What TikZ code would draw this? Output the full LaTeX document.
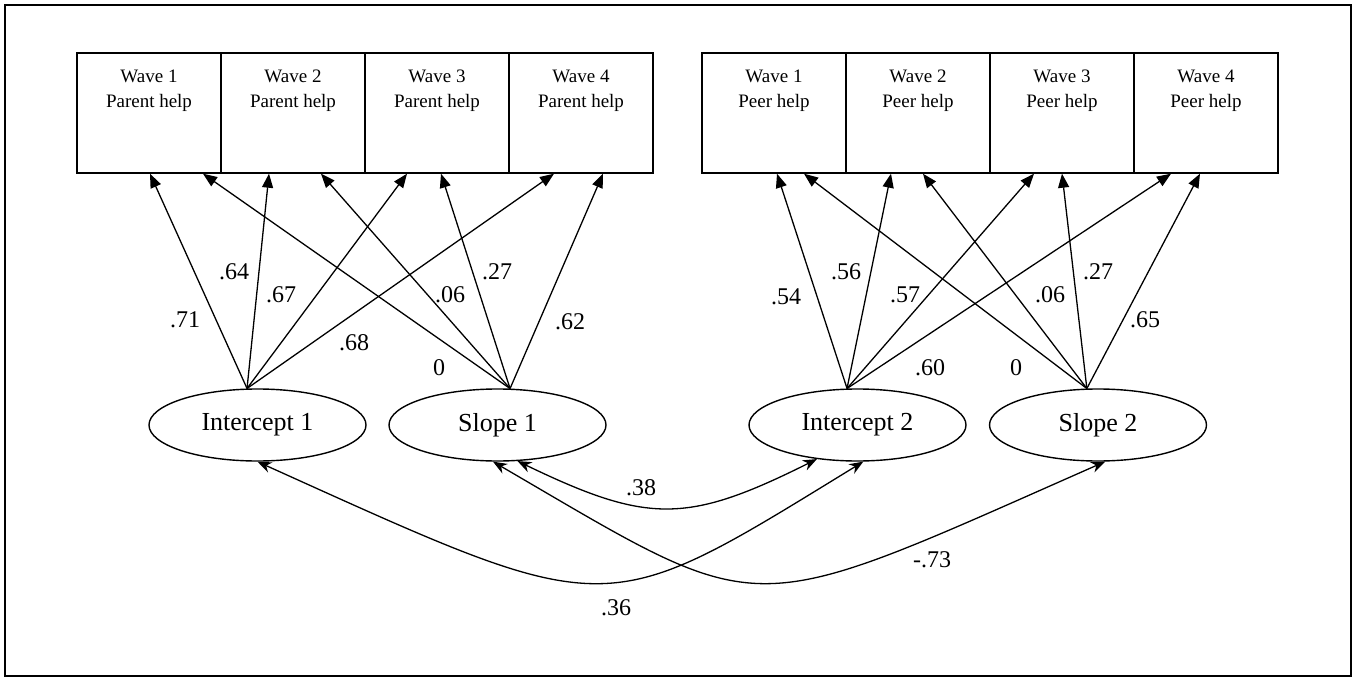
\documentclass[tikz,border=0pt]{standalone}
\usepackage{fontspec}
\setmainfont{Liberation Serif}
\usetikzlibrary{arrows.meta,shapes.geometric}

\begin{document}
\begin{tikzpicture}[x=1pt,y=-1pt,
  frame/.style={draw, line width=1.6pt},
  obsbox/.style={draw, line width=1.4pt, minimum width=144pt, minimum height=120pt, inner sep=0pt},
  boxtext/.style={font=\fontsize{19}{25}\selectfont, align=center, anchor=north, inner sep=0pt},
  latent/.style={draw, ellipse, line width=1.4pt, minimum width=217pt, minimum height=72pt, inner sep=0pt, font=\fontsize{26}{30}\selectfont},
  load/.style={-{Triangle[length=14pt,width=11pt]}, line width=1.3pt},
  cov/.style={{Stealth[length=14pt,width=11pt]}-{Stealth[length=14pt,width=11pt]}, line width=1.3pt},
  coef/.style={font=\fontsize{24}{28}\selectfont, inner sep=0pt}
]
\useasboundingbox (0,0) rectangle (1358,677);
\draw[frame] (5,5) rectangle (1351,676);

% observed measures: parent help
\node[obsbox] (p1) at (149,113) {};
\node[obsbox] (p2) at (293,113) {};
\node[obsbox] (p3) at (437,113) {};
\node[obsbox] (p4) at (581,113) {};
\node[boxtext] (tp1) at (149,69.5) {Wave 1\\Parent help};
\node[boxtext] (tp2) at (293,69.5) {Wave 2\\Parent help};
\node[boxtext] (tp3) at (437,69.5) {Wave 3\\Parent help};
\node[boxtext] (tp4) at (581,69.5) {Wave 4\\Parent help};

% observed measures: peer help
\node[obsbox] (q1) at (774,113) {};
\node[obsbox] (q2) at (918,113) {};
\node[obsbox] (q3) at (1062,113) {};
\node[obsbox] (q4) at (1206,113) {};
\node[boxtext] (tq1) at (774,69.5) {Wave 1\\Peer help};
\node[boxtext] (tq2) at (918,69.5) {Wave 2\\Peer help};
\node[boxtext] (tq3) at (1062,69.5) {Wave 3\\Peer help};
\node[boxtext] (tq4) at (1206,69.5) {Wave 4\\Peer help};

% latent growth factors
\node[latent] (i1) at (257.5,425) {Intercept 1};
\node[latent] (s1) at (497.5,425) {Slope 1};
\node[latent] (i2) at (857.5,425) {Intercept 2};
\node[latent] (s2) at (1098,425) {Slope 2};

% loadings, parent help
\draw[load] (i1.106) -- ([xshift=1pt]p1.south);
\draw[load] (i1.106) -- ([xshift=-24pt]p2.south);
\draw[load] (i1.106) -- ([xshift=-30pt]p3.south);
\draw[load] (i1.106) -- ([xshift=-27pt]p4.south);
\draw[load] (s1.71) -- ([xshift=54pt]p1.south);
\draw[load] (s1.71) -- ([xshift=28pt]p2.south);
\draw[load] (s1.71) -- ([xshift=4pt]p3.south);
\draw[load] (s1.71) -- ([xshift=22pt]p4.south);

% loadings, peer help
\draw[load] (i2.106) -- ([xshift=3pt]q1.south);
\draw[load] (i2.106) -- ([xshift=-27pt]q2.south);
\draw[load] (i2.106) -- ([xshift=-28pt]q3.south);
\draw[load] (i2.106) -- ([xshift=-35pt]q4.south);
\draw[load] (s2.107) -- ([xshift=30pt]q1.south);
\draw[load] (s2.107) -- ([xshift=5pt]q2.south);
\draw[load] (s2.107) -- ([xshift=0pt]q3.south);
\draw[load] (s2.107) -- ([xshift=-6pt]q4.south);

% loading values
\node[coef] (c1) at (185,320) {.71};
\node[coef] (c2) at (234,272) {.64};
\node[coef] (c3) at (281,295) {.67};
\node[coef] (c4) at (354,343) {.68};
\node[coef] (c5) at (439,368) {0};
\node[coef] (c6) at (450,295) {.06};
\node[coef] (c7) at (497,272) {.27};
\node[coef] (c8) at (570,322) {.62};
\node[coef] (d1) at (786,297) {.54};
\node[coef] (d2) at (846,272) {.56};
\node[coef] (d3) at (905,295) {.57};
\node[coef] (d4) at (930,368) {.60};
\node[coef] (d5) at (1016,368) {0};
\node[coef] (d6) at (1050,295) {.06};
\node[coef] (d7) at (1098,272) {.27};
\node[coef] (d8) at (1145,320) {.65};

% factor covariances
\draw[cov] (i1.south) .. controls (615,623) and (600,623) .. (i2.-81);
\draw[cov] (s1.-61) .. controls (648,524) and (687,524) .. (i2.220);
\draw[cov] (s1.263) .. controls (770,623) and (739,623) .. (s2.-79);
\node[coef] (r1) at (641,488) {.38};
\node[coef] (r2) at (932,560) {-.73};
\node[coef] (r3) at (616,608) {.36};
\end{tikzpicture}
\end{document}
